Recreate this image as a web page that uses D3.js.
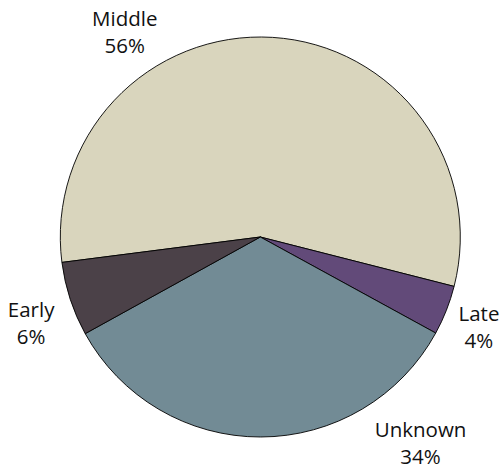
<!DOCTYPE html>
<html>
<head>
<meta charset="utf-8">
<script src="https://cdn.jsdelivr.net/npm/d3@7"></script>
<style>
  html, body { margin: 0; padding: 0; background: #fff; }
  svg { display: block; }
</style>
</head>
<body>
<script>
var width = 502;
var height = 470;

// clockwise order, starting from the Middle/Early edge
var categories = ["Middle", "Late", "Unknown", "Early"];
var values = [56, 4, 34, 6];
var colors = ["#d9d5bd", "#624a79", "#728b95", "#4b4148"];

// where Excel put each label: angle (deg, clockwise from 12 o'clock) and distance from centre
var labelAngle = [-33.6, 112.7, 142.3, 249.3];
var labelDist = [245, 237, 262, 245];

var cx = 260.3, cy = 237, radius = 200;
var startDeg = -97.3;

var svg = d3.select("body")
  .append("svg")
  .attr("width", width)
  .attr("height", height);

var pie = d3.pie()
  .sort(null)
  .value(function(d) { return d.value; })
  .startAngle(startDeg * Math.PI / 180)
  .endAngle((startDeg + 360) * Math.PI / 180);

var arc = d3.arc()
  .innerRadius(0)
  .outerRadius(radius);

var data = categories.map(function(c, i) {
  return { name: c, value: values[i], color: colors[i], i: i };
});

var total = d3.sum(values);

var g = svg.append("g")
  .attr("transform", "translate(" + cx + "," + cy + ")");

g.selectAll("path")
  .data(pie(data))
  .enter().append("path")
  .attr("d", arc)
  .style("fill", function(d) { return d.data.color; })
  .style("stroke", "#000")
  .style("stroke-width", 0.9)
  .style("stroke-linejoin", "round");

var labels = g.selectAll("text.lbl")
  .data(data)
  .enter().append("text")
  .attr("class", "lbl")
  .attr("transform", function(d) {
    var a = labelAngle[d.i] * Math.PI / 180;
    var r = labelDist[d.i];
    return "translate(" + (r * Math.sin(a)) + "," + (-r * Math.cos(a)) + ")";
  })
  .style("font-family", "'Open Sans', sans-serif")
  .style("font-size", "20.5px")
  .style("fill", "#111")
  .style("text-anchor", "middle");

labels.append("tspan")
  .attr("x", 0)
  .attr("y", -7)
  .text(function(d) { return d.name; });

labels.append("tspan")
  .attr("x", 0)
  .attr("y", 20)
  .text(function(d) { return Math.round(d.value / total * 100) + "%"; });
</script>
</body>
</html>
